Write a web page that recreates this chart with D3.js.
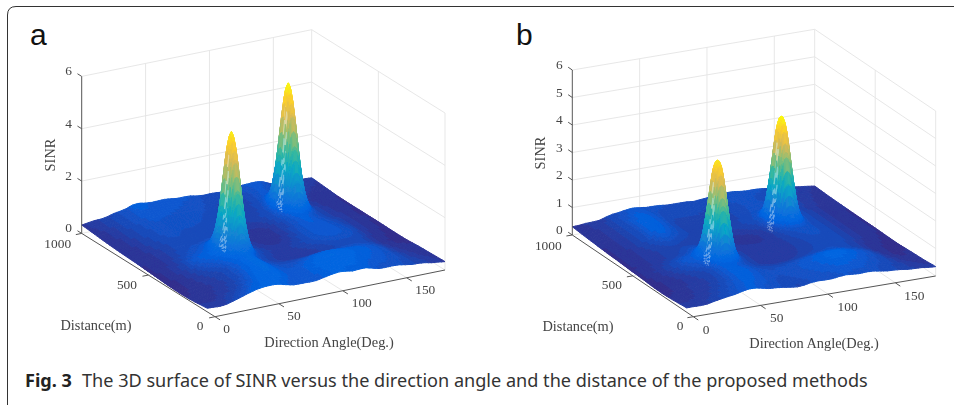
<!DOCTYPE html>
<html><head><meta charset="utf-8"><style>html,body{margin:0;padding:0;background:#fff}svg{display:block}</style>
<script src="https://cdn.jsdelivr.net/npm/d3@7"></script></head><body><svg id="c" width="954" height="405"></svg>
<script>
const angles=[0,10,20,30,40,50,60,70,80,90,100,110,120,130,140,150,160,170,180];
const distances=[1000,900,800,700,600,500,400,300,200,100,0];
const floorA=[
[.32,.38,.44,.55,.68,.67,.65,.62,.59,.55,.52,.50,.55,.62,.58,.41,.38,.36,.34],
[.30,.36,.46,.55,.62,.62,.60,.58,.56,.50,.45,.44,.48,.60,.55,.42,.36,.33,.30],
[.28,.34,.44,.52,.58,.56,.55,.54,.50,.44,.40,.42,.52,.72,.58,.42,.32,.30,.26],
[.27,.32,.42,.50,.55,.52,.52,.50,.46,.42,.40,.45,.58,.85,.65,.45,.34,.30,.25],
[.27,.30,.38,.46,.50,.48,.52,.45,.36,.30,.28,.35,.52,.70,.58,.45,.36,.30,.25],
[.26,.30,.38,.50,.58,.70,.75,.55,.40,.32,.30,.38,.55,.65,.60,.50,.38,.30,.25],
[.25,.30,.42,.62,.72,.90,.95,.65,.45,.38,.38,.45,.55,.62,.60,.52,.36,.28,.24],
[.24,.28,.36,.45,.52,.70,.85,.55,.42,.36,.35,.38,.42,.48,.50,.46,.32,.26,.24],
[.25,.28,.32,.38,.48,.70,.85,.62,.55,.60,.70,.78,.75,.70,.65,.55,.38,.30,.28],
[.30,.30,.36,.44,.60,.78,.80,.65,.62,.72,.80,.80,.74,.68,.62,.55,.42,.34,.30],
[.38,.36,.46,.60,.76,.76,.67,.60,.58,.70,.72,.70,.67,.60,.55,.52,.45,.38,.32]];
const floorB=[
[.30,.33,.38,.50,.58,.58,.54,.52,.50,.50,.52,.58,.58,.55,.52,.50,.45,.36,.30],
[.28,.32,.40,.52,.68,.62,.50,.48,.48,.46,.48,.52,.54,.52,.48,.45,.38,.32,.28],
[.27,.30,.40,.54,.72,.62,.46,.44,.44,.42,.44,.50,.56,.56,.48,.42,.35,.30,.27],
[.26,.30,.40,.52,.68,.56,.46,.44,.44,.42,.46,.52,.66,.70,.54,.44,.34,.30,.26],
[.26,.30,.36,.42,.46,.44,.42,.38,.32,.30,.32,.40,.58,.62,.52,.44,.34,.30,.26],
[.25,.30,.36,.42,.50,.62,.55,.42,.36,.34,.34,.38,.48,.55,.52,.44,.34,.30,.26],
[.25,.32,.42,.58,.70,.86,.72,.50,.38,.34,.34,.38,.44,.50,.50,.44,.34,.28,.25],
[.24,.28,.34,.42,.50,.72,.62,.48,.38,.36,.38,.44,.50,.54,.50,.42,.30,.26,.25],
[.25,.28,.34,.38,.48,.68,.66,.54,.52,.54,.60,.68,.76,.74,.64,.52,.34,.26,.28],
[.30,.32,.36,.44,.56,.68,.64,.54,.52,.56,.60,.64,.68,.64,.58,.50,.40,.32,.30],
[.36,.36,.42,.52,.62,.65,.58,.50,.47,.50,.54,.56,.58,.56,.52,.46,.42,.38,.34]];
const frontRippleA=[0,.01,0,-.01,0,.01,.02,0,-.02,-.01,.01,.02,0,-.02,0,.02,.01,-.02,-.03,0,.03,.01,-.02,.01,.03,0,-.03,-.01,.02,.02,-.01,-.02,.01,.02,0,.01,0];
const backRippleA=[0,.01,.01,-.01,0,.02,0,-.02,.01,.02,-.01,-.02,0,.02,.01,-.01,.01,.02,-.01,-.02,0,.01,-.01,.01,.02,0,-.02,0,.01,0,-.01,.01,.01,-.01,0,.01,0];
const frontRippleB=[0,.01,0,-.01,.01,.01,0,-.02,0,.02,.01,-.01,-.02,.01,.02,0,-.02,-.01,.02,.02,-.01,-.02,.01,.02,-.01,-.02,.01,.02,0,-.01,.01,.01,-.01,0,.01,0,0];
const backRippleB=[0,0,.01,0,-.01,.01,.01,-.01,0,.02,0,-.01,.01,.01,-.01,0,.01,.01,-.02,0,.01,0,-.01,.01,.01,-.01,-.01,.01,.01,-.01,0,.01,0,-.01,0,.01,0];
const peaksA=[{angle:60,dist:430,height:4.22,wx:4.8,wd:40},{angle:134,dist:730,height:4.5,wx:4.8,wd:40}];
const peaksB=[{angle:55,dist:385,height:3.3,wx:5.2,wd:40},{angle:125,dist:657,height:3.63,wx:5.2,wd:40}];
const profileR=[0,.2,.4,.6,.8,1,1.2,1.4,1.6,1.8,2,2.25,2.5,2.75,3,3.5,4];
const profileA=[1,.98,.92,.835,.73,.61,.49,.375,.28,.2,.135,.08,.045,.02,.01,0,0];
const profileB=[1,.99,.95,.87,.76,.63,.5,.38,.27,.18,.11,.06,.03,.012,.005,0,0];
const zTicksA=[0,2,4,6], zTicksB=[0,1,2,3,4,5,6], xTicks=[0,50,100,150], dTicks=[0,500,1000];
const parula=["#352a87","#0363e1","#1485d4","#06a7c6","#38b99e","#92bf73","#d9ba56","#fcce2e","#f9fb0e"];
const caption="The 3D surface of SINR versus the direction angle and the distance of the proposed methods";

const svg=d3.select("#c");
const defs=svg.append("defs");
defs.append("filter").attr("id","soft").attr("x","-5%").attr("y","-5%").attr("width","110%").attr("height","110%")
  .append("feGaussianBlur").attr("stdDeviation",0.45);
svg.append("path").attr("d","M7.5,405V15Q7.5,6.5 16,6.5H954").attr("fill","none").attr("stroke","#333").attr("stroke-width",1);

const tStops=parula.map((c,i)=>i/(parula.length-1));
const parulaScale=d3.scaleLinear().domain(tStops).range(parula).interpolate(d3.interpolateRgb);
const levels=d3.range(64).map(i=>parulaScale((i+.5)/64));
const gridInterp=(p0,p1,p2,p3,t)=>p1+.5*t*(p2-p0+t*(2*p0-5*p1+4*p2-p3+t*(3*(p1-p2)+p3-p0)));
function sampleFloor(m,x,d){
  const fx=x/10, fr=(1000-d)/100;
  const c=Math.min(17,Math.max(0,Math.floor(fx))), r=Math.min(9,Math.max(0,Math.floor(fr)));
  const tx=fx-c, tr=fr-r, row=i=>m[Math.max(0,Math.min(10,i))], col=(a,j)=>a[Math.max(0,Math.min(18,j))];
  const v=[-1,0,1,2].map(k=>{const a=row(r+k);return gridInterp(col(a,c-1),col(a,c),col(a,c+1),col(a,c+2),tx);});
  return gridInterp(v[0],v[1],v[2],v[3],tr);
}
function axisTicksMesh(peaks,key,wkey,max,far,near){
  const s=new Set(d3.range(0,max+1e-6,far));
  peaks.forEach(p=>{const w=p[wkey]*3.4;d3.range(Math.ceil(p[key]-w),p[key]+w,near).forEach(v=>{if(v>=0&&v<=max)s.add(v);});});
  s.add(max);return [...s].sort((a,b)=>a-b);
}
function panel(cfg){
  const xS=d3.scaleLinear().domain([0,180]).range([0,1]);
  const dS=d3.scaleLinear().domain([0,1000]).range([0,1]);
  const zS=d3.scaleLinear().domain([0,6]).range([0,cfg.zHeight]);
  const pr=(x,d,z)=>[cfg.front[0]+xS(x)*cfg.u[0]+dS(d)*cfg.v[0],cfg.front[1]+xS(x)*cfg.u[1]+dS(d)*cfg.v[1]-zS(z)];
  const line=d3.line();
  const g=svg.append("g").attr("filter","url(#soft)");
  const wall=g.append("g").attr("fill","none").attr("stroke","#e4e4e4").attr("stroke-width",.9);
  const seg=(a,b,sel=wall)=>sel.append("path").attr("d",line([a,b]));
  cfg.zTicks.forEach(z=>{ if(z>0){seg(pr(0,1000,z),pr(180,1000,z));seg(pr(180,1000,z),pr(180,0,z));} });
  xTicks.filter(x=>x>0).forEach(x=>{seg(pr(x,1000,0),pr(x,1000,6));seg(pr(x,1000,0),pr(x,0,0));});
  dTicks.filter(d=>d>0&&d<1000).forEach(d=>{seg(pr(180,d,0),pr(180,d,6));seg(pr(180,d,0),pr(0,d,0));});
  seg(pr(180,1000,0),pr(180,1000,6));seg(pr(180,0,0),pr(180,0,6));
  seg(pr(180,1000,0),pr(180,0,0));seg(pr(180,1000,0),pr(0,1000,0));

  const profile=d3.scaleLinear().domain(profileR).range(cfg.profile).clamp(true);
  const rippleAxis=d3.range(0,181,5);
  const frontR=d3.scaleLinear().domain(rippleAxis).range(cfg.frontRipple);
  const backR=d3.scaleLinear().domain(rippleAxis).range(cfg.backRipple);
  const zAt=(x,d)=>{let z=sampleFloor(cfg.floor,x,d);
    z+=frontR(x)*Math.max(0,1-d/90)+backR(x)*Math.max(0,1-(1000-d)/90);
    cfg.peaks.forEach(p=>{const r=Math.hypot((x-p.angle)/p.wx,(d-p.dist)/p.wd);z+=p.height*profile(r);});return z;};
  const mx=axisTicksMesh(cfg.peaks,"angle","wx",180,2.5,1);
  const md=axisTicksMesh(cfg.peaks,"dist","wd",1000,20,8);
  const zMax=d3.max(cfg.peaks,p=>p.height+sampleFloor(cfg.floor,p.angle,p.dist));
  const toneOf=d3.scaleLinear().domain([0.2,.7,1.1,zMax]).range([0,.12,.19,1]).clamp(true);
  const colorIdx=d3.scaleQuantize().domain([0,1]).range(levels);
  const whiten=d3.interpolateRgb;
  const vert=(x,d)=>{const sh=cfg.shift*(1-xS(x))*(1-dS(d));return pr(x+sh,d,zAt(x,d));};
  const sg=g.append("g").attr("stroke-width",1).attr("stroke-linejoin","round");
  for(let j=md.length-2;j>=0;j--) for(let i=mx.length-2;i>=0;i--){
    const a=vert(mx[i],md[j]),b=vert(mx[i+1],md[j]),c=vert(mx[i+1],md[j+1]),e=vert(mx[i],md[j+1]);
    const zm=(zAt(mx[i],md[j])+zAt(mx[i+1],md[j])+zAt(mx[i+1],md[j+1])+zAt(mx[i],md[j+1]))/4;
    let col=colorIdx(toneOf(zm));
    const cx=(mx[i]+mx[i+1])/2, cd=(md[j]+md[j+1])/2;
    const hit=cfg.peaks.some(p=>{const rx=(p.angle-cx)/p.wx;return rx>.7&&rx<2.6&&Math.abs(cd-(p.dist-20*rx))<=9*rx;});
    if(hit&&(i+j)%2===0) col=whiten(col,"#fff")(.4);
    sg.append("path").attr("d",line([a,b,c,e])+"Z").attr("fill",col).attr("stroke",col);
  }
  const ax=g.append("g").attr("fill","none").attr("stroke","#555").attr("stroke-width",1);
  seg(pr(0,1000,0),pr(0,1000,6),ax);seg(pr(0,1000,0),pr(0,0,0),ax);seg(pr(0,0,0),pr(180,0,0),ax);
  const unit=v=>{const n=Math.hypot(v[0],v[1]);return [v[0]/n,v[1]/n];};
  const uu=unit(cfg.u),vv=unit(cfg.v);
  const tick=(p,dir,len)=>seg(p,[p[0]+dir[0]*len,p[1]+dir[1]*len],ax);
  cfg.zTicks.forEach(z=>tick(pr(0,1000,z),[vv[0],vv[1]],5));
  dTicks.forEach(d=>tick(pr(0,d,0),[-uu[0],-uu[1]],6));
  xTicks.forEach(x=>tick(pr(x,0,0),[-vv[0],-vv[1]],6));
  const txt=g.append("g").attr("font-family","'Liberation Serif',serif").attr("font-size",13.4).attr("fill","#444").attr("text-anchor","middle").attr("dominant-baseline","middle");
  cfg.zTicks.forEach(z=>{const p=pr(0,1000,z);txt.append("text").attr("x",p[0]+cfg.zOff[0]).attr("y",p[1]+cfg.zOff[1]).text(z);});
  dTicks.forEach((d,i)=>{const p=pr(0,d,0);txt.append("text").attr("x",p[0]+cfg.dOff[i][0]).attr("y",p[1]+cfg.dOff[i][1]).text(d);});
  xTicks.forEach((x,i)=>{const p=pr(x,0,0);txt.append("text").attr("x",p[0]+cfg.xOff[i][0]).attr("y",p[1]+cfg.xOff[i][1]).text(x);});
  const lab=txt.append("g").attr("font-size",14.4);
  lab.append("text").attr("x",cfg.distLabel[0]).attr("y",cfg.distLabel[1]).text("Distance(m)");
  lab.append("text").attr("x",cfg.angleLabel[0]).attr("y",cfg.angleLabel[1]).text("Direction Angle(Deg.)");
  lab.append("text").attr("transform",`translate(${cfg.zLabel[0]},${cfg.zLabel[1]}) rotate(-90)`).text("SINR");
  svg.append("text").attr("x",cfg.tag[0]).attr("y",cfg.tag[1]).attr("font-family","'Liberation Sans',sans-serif").attr("font-size",30).attr("fill","#111").text(cfg.name);
}
panel({name:"a",tag:[30,45],front:[215,316.7],u:[230,-46.7],v:[-133.3,-83.3],zHeight:157,shift:-6,floor:floorA,frontRipple:frontRippleA,backRipple:backRippleA,peaks:peaksA,profile:profileA,zTicks:zTicksA,
  zOff:[-13,-4],dOff:[[-15,10],[-21.4,11],[-24,11.6]],xOff:[[11.7,13.3],[15,13.6],[19,13.3],[18.6,13.2]],distLabel:[96,327],angleLabel:[329,344],zLabel:[52,155]});
panel({name:"b",tag:[516,45],front:[693.3,316.7],u:[242.4,-40.7],v:[-121,-81.7],zHeight:165,shift:-5,floor:floorB,frontRipple:frontRippleB,backRipple:backRippleB,peaks:peaksB,profile:profileB,zTicks:zTicksB,
  zOff:[-13,-4],dOff:[[-13.3,10],[-21,10],[-24,11.7]],xOff:[[12.7,14],[16,14],[19.7,14.3],[19,14]],distLabel:[578,328],angleLabel:[814,345],zLabel:[542,153]});
const capG=svg.append("g").attr("font-family","'Noto Sans',sans-serif").attr("font-size",18.1).attr("fill","#333");
capG.append("text").attr("x",25).attr("y",387).attr("font-weight",700).attr("fill","#222").text("Fig. 3");
capG.append("text").attr("x",82).attr("y",387).text(caption);
</script></body></html>
